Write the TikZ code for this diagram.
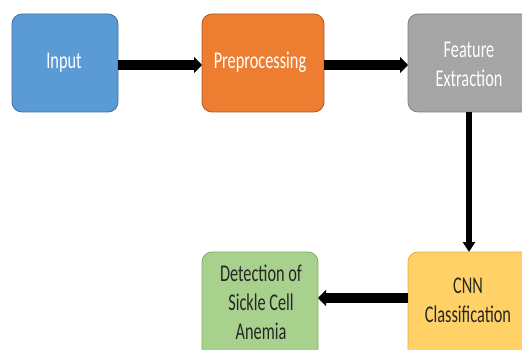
\documentclass[tikz,border=0pt]{standalone}
\usepackage{fontspec}
\usepackage{graphicx}
\setmainfont{Carlito}
\usetikzlibrary{arrows.meta}
\definecolor{cblue}{HTML}{5B9BD5}
\definecolor{cbluee}{HTML}{41719C}
\definecolor{corange}{HTML}{ED7D31}
\definecolor{corangee}{HTML}{AE5A21}
\definecolor{cgray}{HTML}{A5A5A5}
\definecolor{cgraye}{HTML}{7F7F7F}
\definecolor{cyellow}{HTML}{FFD166}
\definecolor{cyellowe}{HTML}{E0B040}
\definecolor{cgreen}{HTML}{A9D18E}
\definecolor{cgreene}{HTML}{7FAF5F}
\definecolor{ctext}{HTML}{262626}
\newcommand{\sqz}[1]{\scalebox{0.68}[1]{\begin{tabular}{@{}c@{}}#1\end{tabular}}}
\begin{document}
\begin{tikzpicture}[x=1pt,y=1pt,
  box/.style={draw, line width=0.8pt, rounded corners=10pt},
  lbl/.style={inner sep=0pt, font=\fontsize{24}{29}\selectfont},
  harr/.style={line width=10pt, -{Triangle[width=16pt,length=8pt]}},
  varr/.style={line width=6pt, -{Triangle[width=12pt,length=10pt]}}]
\useasboundingbox (0,0) rectangle (522,-350);
\fill[white] (0,0) rectangle (522,-350);
\begin{scope}
\clip (0,0) rectangle (522,-350);
\draw[box, fill=cblue, draw=cbluee] (12,-14) rectangle (118,-112);
\node[lbl, text=white] (input) at (64,-63) {\sqz{Input}};
\draw[box, fill=corange, draw=corangee] (202,-14) rectangle (324,-112);
\node[lbl, text=white] (pre) at (260,-63) {\sqz{Preprocessing}};
\draw[box, fill=cgray, draw=cgraye] (408,-14) rectangle (535,-112);
\node[lbl, text=white] (feat) at (469,-66) {\sqz{Feature\\Extraction}};
\draw[box, fill=cyellow, draw=cyellowe] (408,-252) rectangle (535,-360);
\node[lbl, text=ctext] (cnn) at (468,-302) {\sqz{CNN\\Classification}};
\draw[box, fill=cgreen, draw=cgreene] (202,-252) rectangle (318,-360);
\node[lbl, text=ctext] (det) at (261,-305) {\sqz{Detection of\\Sickle Cell\\Anemia}};
\coordinate (a1s) at (118,-65); \coordinate (a1e) at (202,-65);
\coordinate (a2s) at (324,-65); \coordinate (a2e) at (408,-65);
\coordinate (a3s) at (469,-112); \coordinate (a3e) at (469,-252);
\coordinate (a4s) at (408,-298); \coordinate (a4e) at (318,-298);
\draw[harr] (a1s) -- (a1e);
\draw[harr] (a2s) -- (a2e);
\draw[varr] (a3s) -- (a3e);
\draw[harr] (a4s) -- (a4e);
\end{scope}
\end{tikzpicture}
\end{document}
